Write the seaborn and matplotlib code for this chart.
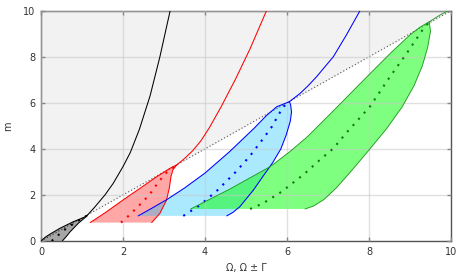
import numpy as np
import pandas as pd
import matplotlib
matplotlib.use("Agg")
import matplotlib.pyplot as plt
import seaborn as sns

# ---- data ----
ticks = [0, 2, 4, 6, 8, 10]
diag = [0, 10]

black_left_x = [0.0, 0.10, 0.22, 0.46, 0.79, 1.03, 1.12]
black_left_y = [0.0, 0.16, 0.30, 0.55, 0.84, 1.01, 1.10]
black_right_x = [0.52, 0.62, 0.71, 0.91, 1.07, 1.12]
black_right_y = [0.0, 0.20, 0.40, 0.77, 1.01, 1.10]
black_mid_x = [0.26, 0.45, 0.62, 0.87, 1.12]
black_mid_y = [0.0, 0.30, 0.55, 0.84, 1.10]
black_up_x = [1.12, 1.30, 1.56, 1.76, 2.00, 2.18, 2.40, 2.66, 2.90, 3.15]
black_up_y = [1.10, 1.45, 2.00, 2.50, 3.23, 3.85, 4.85, 6.30, 8.00, 10.0]

red_left_x = [1.20, 1.60, 2.00, 2.40, 2.82, 3.15, 3.31]
red_left_y = [0.80, 1.27, 1.78, 2.27, 2.79, 3.16, 3.30]
red_right_x = [2.70, 2.90, 3.06, 3.13, 3.17, 3.22, 3.31]
red_right_y = [0.80, 1.20, 1.77, 2.30, 2.80, 3.10, 3.30]
red_mid_x = [1.95, 2.16, 2.35, 2.52, 2.69, 2.82, 2.94, 3.06, 3.31]
red_mid_y = [0.80, 1.13, 1.47, 1.77, 2.12, 2.45, 2.72, 2.97, 3.30]
red_up_x = [3.31, 3.50, 3.70, 3.90, 4.10, 4.40, 4.75, 5.10, 5.50]
red_up_y = [3.30, 3.58, 3.92, 4.35, 4.90, 5.85, 7.05, 8.35, 10.0]

blue_left_x = [2.37, 2.70, 3.07, 3.50, 4.00, 4.60, 4.90, 5.20, 5.50, 5.75, 6.06]
blue_left_y = [1.09, 1.42, 1.80, 2.30, 2.95, 3.88, 4.39, 4.90, 5.45, 5.83, 6.05]
blue_right_x = [4.53, 4.68, 4.85, 5.18, 5.45, 5.65, 5.85, 5.98, 6.08, 6.11, 6.09, 6.06]
blue_right_y = [1.09, 1.24, 1.49, 2.21, 2.90, 3.40, 4.00, 4.60, 5.20, 5.60, 5.90, 6.05]
blue_mid_x = [3.47, 3.88, 4.30, 4.75, 5.10, 5.40, 5.63, 5.79, 5.91, 6.06]
blue_mid_y = [1.09, 1.56, 2.20, 3.00, 3.70, 4.40, 4.96, 5.47, 5.83, 6.05]
blue_up_x = [6.06, 6.32, 6.52, 6.72, 7.13, 7.45, 7.78]
blue_up_y = [6.05, 6.41, 6.75, 7.13, 8.00, 8.95, 10.0]

green_left_x = [3.65, 4.60, 5.59, 6.05, 6.50, 7.13, 7.60, 8.10, 8.55, 9.00, 9.24, 9.47]
green_left_y = [1.39, 2.25, 3.23, 3.85, 4.53, 5.65, 6.50, 7.40, 8.20, 8.95, 9.28, 9.52]
green_right_x = [6.44, 6.65, 6.90, 7.20, 7.54, 8.00, 8.43, 8.80, 9.10, 9.30, 9.43, 9.50, 9.47]
green_right_y = [1.39, 1.52, 1.80, 2.30, 2.98, 3.95, 4.88, 5.80, 6.75, 7.60, 8.40, 9.10, 9.52]
green_mid_x = [5.10, 5.42, 5.87, 6.44, 6.80, 7.13, 7.45, 8.02, 8.51, 8.92, 9.28, 9.47]
green_mid_y = [1.39, 1.64, 2.14, 2.94, 3.52, 4.02, 4.70, 5.83, 7.13, 8.15, 9.10, 9.52]
green_up_x = [9.47, 9.73, 9.93]
green_up_y = [9.52, 9.81, 10.0]

# ---- figure ----
sns.set_theme(style="white")
plt.rcParams['font.family'] = ['DejaVu Sans']

fig = plt.figure(figsize=(4.67, 2.73), dpi=100)
ax = fig.add_axes([41 / 467, 32 / 273, 410 / 467, 230.3 / 273])
ax.set_facecolor("white")

# light gray region above the diagonal
dx = np.array(diag, dtype=float)
ax.fill_between(dx, dx, 10, color="#f2f2f2", lw=0, zorder=0)
sns.lineplot(x=diag, y=diag, ax=ax, color="#555555", lw=0.8,
             linestyle=(0, (1, 2)), zorder=1)


def tongue(lx, ly, rx, ry, mx, my, ux, uy, fill, falpha, edge, dot, ew):
    px = np.concatenate([lx, rx[::-1]])
    py = np.concatenate([ly, ry[::-1]])
    ax.fill(px, py, color=fill, alpha=falpha, lw=0, zorder=2)
    for xs, ys in ((lx, ly), (rx, ry), (ux, uy)):
        d = pd.DataFrame({"x": xs, "y": ys})
        sns.lineplot(data=d, x="x", y="y", sort=False, estimator=None,
                     ax=ax, color=edge, lw=ew, zorder=3)
    d = pd.DataFrame({"x": mx, "y": my})
    sns.lineplot(data=d, x="x", y="y", sort=False, estimator=None, ax=ax,
                 color=dot, lw=1.5, linestyle=(0, (1, 3)), zorder=3)


tongue(black_left_x, black_left_y, black_right_x, black_right_y,
       black_mid_x, black_mid_y, black_up_x, black_up_y,
       "#000000", 0.35, "#000000", "#000000", 0.75)
tongue(red_left_x, red_left_y, red_right_x, red_right_y,
       red_mid_x, red_mid_y, red_up_x, red_up_y,
       "#ff0000", 0.35, "#ff0000", "#ff0000", 0.75)
tongue(blue_left_x, blue_left_y, blue_right_x, blue_right_y,
       blue_mid_x, blue_mid_y, blue_up_x, blue_up_y,
       "#00bfff", 0.33, "#0000ff", "#0000ff", 0.75)
tongue(green_left_x, green_left_y, green_right_x, green_right_y,
       green_mid_x, green_mid_y, green_up_x, green_up_y,
       "#00ff00", 0.5, "#229922", "#117711", 0.65)

ax.set_xlim(0, 10)
ax.set_ylim(0, 10)
ax.set_xticks(ticks)
ax.set_yticks(ticks)
ax.grid(True, color="#c8c8c8", alpha=0.55, lw=1.0, zorder=4)
ax.set_axisbelow(False)
for sp in ax.spines.values():
    sp.set_visible(True)
    sp.set_color("#555555")
    sp.set_linewidth(1.0)
ax.tick_params(direction="in", length=3, width=1, color="#888888",
               labelsize=7, labelcolor="#333333", pad=4,
               top=True, right=True, bottom=True, left=True,
               labeltop=False, labelright=False)
ax.set_xlabel("Ω, Ω ± Γ", fontsize=7, color="#333333", labelpad=5)
ax.set_ylabel("m", fontsize=7, color="#333333", labelpad=7)

fig.savefig("out.png", dpi=100)
